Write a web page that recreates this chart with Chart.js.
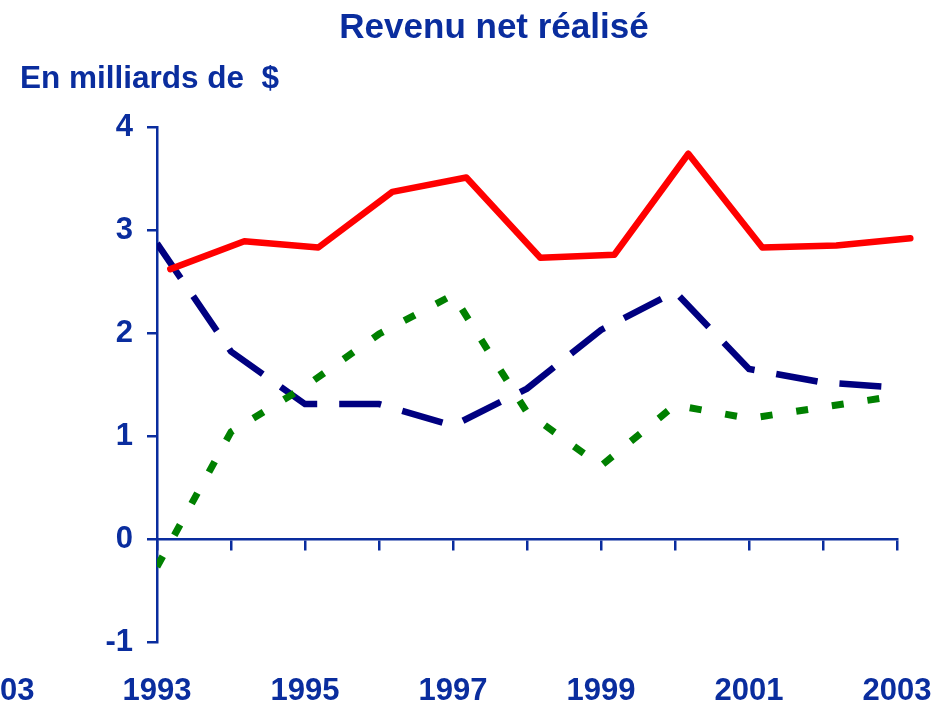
<!DOCTYPE html>
<html>
<head>
<meta charset="utf-8">
<title>Revenu net réalisé</title>
<script src="https://cdn.jsdelivr.net/npm/chart.js@4"></script>
<style>
  body { margin: 0; background: #fff; }
  canvas { display: block; }
</style>
</head>
<body>
<canvas id="revenuChart" width="950" height="704"></canvas>
<script>
const years = [1993, 1994, 1995, 1996, 1997, 1998, 1999, 2000, 2001, 2002, 2003];
const redValues = [2.62, 2.89, 2.83, 3.37, 3.51, 2.73, 2.76, 3.74, 2.83, 2.85, 2.92];
const blueValues = [2.87, 1.82, 1.31, 1.31, 1.10, 1.46, 2.03, 2.40, 1.65, 1.52, 1.47];
const greenValues = [-0.27, 1.04, 1.48, 1.99, 2.37, 1.23, 0.71, 1.30, 1.17, 1.28, 1.39];
const yTicks = [-1, 0, 1, 2, 3, 4];
// the red series sits a little right of the year ticks in the original
const redShift = 0.18;

const axisColor = '#0a2d9e';
const fontFamily = "'Liberation Sans', Arial, sans-serif";

function points(values, shift) {
    return values.map((v, i) => ({ x: years[i] + shift, y: v }));
}

// subtitle on the left, plus the cut-off label of the neighbouring chart
const sideText = {
    id: 'sideText',
    afterDraw(chart) {
        const ctx = chart.ctx;
        ctx.save();
        ctx.fillStyle = axisColor;
        ctx.font = 'bold 31.5px ' + fontFamily;
        ctx.textBaseline = 'alphabetic';
        ctx.textAlign = 'left';
        ctx.fillText('En milliards de  $', 20, 88);
        ctx.font = 'bold 31px ' + fontFamily;
        ctx.textAlign = 'center';
        ctx.textBaseline = 'middle';
        ctx.fillText('2003', 0, 691);
        ctx.restore();
    }
};

let ctx = document.getElementById('revenuChart').getContext('2d');

let chart = new Chart(ctx, {
    type: 'line',
    data: {
        datasets: [{
            label: 'Rouge',
            data: points(redValues, redShift),
            borderColor: '#ff0000',
            borderWidth: 6.5,
            borderCapStyle: 'round',
            borderJoinStyle: 'round',
            clip: false,
            xAxisID: 'x',
            yAxisID: 'y'
        }, {
            label: 'Vert',
            data: points(greenValues, 0),
            borderColor: '#008000',
            borderWidth: 7,
            borderDash: [12, 24],
            xAxisID: 'x',
            yAxisID: 'y'
        }, {
            label: 'Bleu',
            data: points(blueValues, 0),
            borderColor: '#000080',
            borderWidth: 6.5,
            borderDash: [42, 22],
            xAxisID: 'x',
            yAxisID: 'y'
        }]
    },
    options: {
        responsive: false,
        animation: false,
        elements: {
            point: { radius: 0 },
            line: { tension: 0, fill: false }
        },
        layout: {
            padding: { left: 20, right: -18, top: 0, bottom: 0 }
        },
        scales: {
            x: {
                type: 'linear',
                min: years[0],
                max: years[years.length - 1],
                grid: { display: false, drawTicks: false },
                border: { display: false },
                ticks: {
                    stepSize: 1,
                    autoSkip: false,
                    maxRotation: 0,
                    padding: 31,
                    color: axisColor,
                    font: { family: fontFamily, size: 31, weight: 'bold' },
                    callback: (v) => ((v - years[0]) % 2 === 0 ? String(v) : '')
                },
                afterFit: (scale) => {
                    scale.height = 62;
                    scale.paddingLeft = 0;
                    scale.paddingRight = 0;
                }
            },
            x2: {
                type: 'linear',
                position: { y: 0 },
                min: years[0],
                max: years[years.length - 1],
                grid: {
                    drawOnChartArea: false,
                    drawTicks: true,
                    tickLength: 10,
                    color: axisColor,
                    lineWidth: 2.5
                },
                border: { color: axisColor, width: 2.5 },
                ticks: { stepSize: 1, display: false },
                afterFit: (scale) => { scale.height = 0; }
            },
            y: {
                min: yTicks[0],
                max: yTicks[yTicks.length - 1],
                grid: {
                    drawOnChartArea: false,
                    drawTicks: true,
                    tickLength: 10,
                    color: axisColor,
                    lineWidth: 2.5
                },
                border: { color: axisColor, width: 2.5 },
                ticks: {
                    stepSize: 1,
                    padding: 14,
                    color: axisColor,
                    font: { family: fontFamily, size: 31, weight: 'bold' }
                },
                afterBuildTicks: (scale) => { scale.ticks = yTicks.map(v => ({ value: v })); },
                afterFit: (scale) => { scale.width = 137; }
            },
            y2: {
                position: 'right',
                grid: { display: false },
                border: { display: false },
                ticks: { display: false },
                afterFit: (scale) => { scale.width = 71; }
            }
        },
        plugins: {
            legend: { display: false },
            tooltip: { enabled: false },
            title: {
                display: true,
                text: 'Revenu net réalisé',
                color: axisColor,
                font: { family: fontFamily, size: 35, weight: 'bold' },
                padding: { top: 7, bottom: 12 + 37 + 29 }
            }
        }
    },
    plugins: [sideText]
});
</script>
</body>
</html>
